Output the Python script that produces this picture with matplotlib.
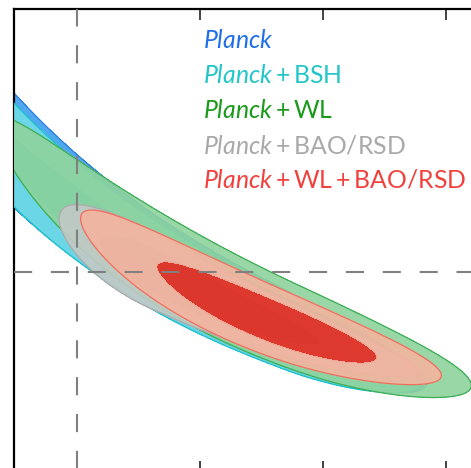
import numpy as np
import matplotlib.pyplot as plt

# Posterior summaries in (Omega_m, S) with S = sigma8 * (Omega_m / 0.3) ** ALPHA.
# Omega_m uses a split normal (separate widths below / above the mean).
ALPHA = 1.2
names = ["Planck", "Planck+BSH", "Planck+WL", "Planck+BAO/RSD", "Planck+WL+BAO/RSD"]
om_mean = [0.330, 0.330, 0.3407, 0.285, 0.331]
om_sd_lo = [0.100, 0.080, 0.050, 0.017, 0.032]
om_sd_hi = [0.025, 0.024, 0.028, 0.042, 0.027]
s_mean = [0.760, 0.752, 0.775, 0.745, 0.765]
s_sd = [0.043, 0.0414, 0.0477, 0.036, 0.039]
corr = [-0.16, -0.14, 0.0, 0.30, 0.16]

# fiducial values marked by the dashed lines
om_fid = 0.25
s8_fid = 0.80

fill_outer = ["#3f9fee", "#6edce4", "#8fd39c", "#c2c9c6", "#f4b49f"]
fill_inner = ["#2a86e0", "#3ccfd8", "#55c087", "#aeb7b3", "#e3291f"]
edge_col = ["#2a7fe0", "#18bfcc", "#3cae55", "#a9abaa", "#ee6f5f"]
text_col = ["#1f6fe8", "#22c6c8", "#1a9a1a", "#a9a9a9", "#f2403c"]

plt.rcParams["mathtext.fontset"] = "custom"
plt.rcParams["mathtext.it"] = "Lato:italic"
plt.rcParams["mathtext.rm"] = "Lato"

fig = plt.figure(figsize=(4.71, 4.68), dpi=100)
ax = fig.add_axes([14 / 471, -4 / 468, 469 / 471, 463 / 468])

om = np.linspace(0.15, 0.46, 800)
s8 = np.linspace(0.30, 1.50, 800)
OM, S8 = np.meshgrid(om, s8)
S = S8 * (OM / 0.3) ** ALPHA

levels = [0.0, 2.30, 6.18]
for i in range(len(names)):
    xi = np.where(OM < om_mean[i], (OM - om_mean[i]) / om_sd_lo[i],
                  (OM - om_mean[i]) / om_sd_hi[i])
    eta = (S - s_mean[i]) / s_sd[i]
    r = corr[i]
    chi2 = (xi ** 2 - 2 * r * xi * eta + eta ** 2) / (1 - r ** 2)
    ax.contourf(OM, S8, chi2, levels=levels,
                colors=[fill_inner[i], fill_outer[i]], alpha=0.9, zorder=2 + i)
    ax.contour(OM, S8, chi2, levels=[6.18], colors=[edge_col[i]],
               linewidths=0.9, zorder=2 + i)

ax.axvline(om_fid, color="#808080", lw=1.5, dashes=(8.7, 9.0), zorder=20)
ax.axhline(s8_fid, color="#808080", lw=1.5, dashes=(8.7, 9.0), zorder=20)

ax.set_xlim(0.22439, 0.41504)
ax.set_ylim(0.32804, 1.42072)
ax.set_xticks([0.25, 0.30, 0.35, 0.40])
ax.set_yticks([])
ax.tick_params(axis="x", direction="in", length=8, width=1.3, color="#333333",
               top=True, bottom=True, labelbottom=False, labeltop=False)
for sp in ax.spines.values():
    sp.set_linewidth(1.6)

# legend as coloured labels
baselines = [48, 83, 118, 153, 188]
for i, name in enumerate(names):
    parts = name.split("+")
    label = r"$\mathit{" + parts[0] + "}" + "".join(r"+\mathrm{" + p + "}" for p in parts[1:]) + "$"
    fig.text(203 / 471, 1 - baselines[i] / 468, label,
             color=text_col[i], fontsize=17.8, va="baseline", ha="left")

fig.savefig("out.png", dpi=100)
